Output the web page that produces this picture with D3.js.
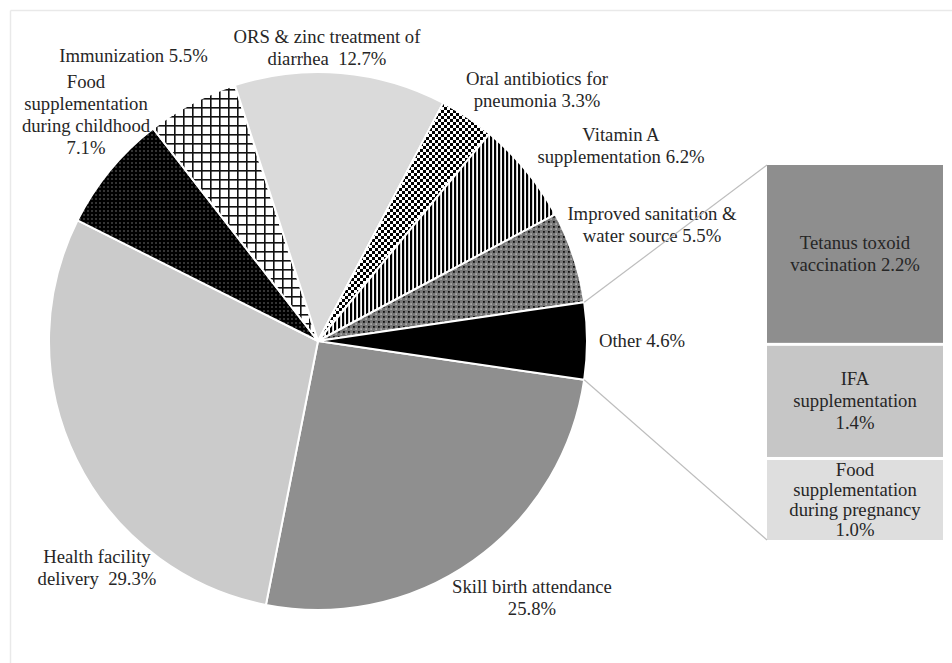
<!DOCTYPE html>
<html>
<head>
<meta charset="utf-8">
<script src="https://cdn.jsdelivr.net/npm/d3@7"></script>
<style>
  html, body { margin: 0; padding: 0; background: #fff; }
  svg { display: block; }
  text {
    font-family: "Liberation Serif", "Times New Roman", serif;
    font-size: 18.7px;
    fill: #262626;
    white-space: pre;
  }
</style>
</head>
<body>
<svg id="chart" width="952" height="663"></svg>
<script>
// ---- data ----
const categories = [
  "Skill birth attendance",
  "Health facility delivery",
  "Food supplementation during childhood",
  "Immunization",
  "ORS & zinc treatment of diarrhea",
  "Oral antibiotics for pneumonia",
  "Vitamin A supplementation",
  "Improved sanitation & water source",
  "Other"
];
const values = [25.8, 29.3, 7.1, 5.5, 12.7, 3.3, 6.2, 5.5, 4.6];
const labelTemplates = [
  "Skill birth attendance\n{v}",
  "Health facility\ndelivery  {v}",
  "Food\nsupplementation\nduring childhood\n{v}",
  "Immunization {v}",
  "ORS & zinc treatment of\ndiarrhea  {v}",
  "Oral antibiotics for\npneumonia {v}",
  "Vitamin A\nsupplementation {v}",
  "Improved sanitation &\nwater source {v}",
  "Other {v}"
];

// breakdown of the "Other" slice
const otherCategories = ["Tetanus toxoid vaccination", "IFA supplementation", "Food supplementation during pregnancy"];
const otherValues = [2.2, 1.4, 1.0];
const otherTemplates = [
  "Tetanus toxoid\nvaccination {v}",
  "IFA\nsupplementation\n{v}",
  "Food\nsupplementation\nduring pregnancy\n{v}"
];

// ---- styling / layout ----
const sliceFills = ["#8f8f8f", "#cbcbcb", "url(#dots)", "url(#grid)", "#dadada",
                    "url(#checker)", "url(#vlines)", "url(#confetti)", "#000000"];
const barFills = ["#8e8e8e", "#c6c6c6", "#dedede"];
// first-baseline anchor of each slice label
const labelAnchors = [[532, 593], [97, 563], [86, 88], [133.5, 62], [327, 43],
                      [537, 85], [621, 141], [652, 220], [642, 347]];
const lineHeight = 22;

const cx = 318, cy = 341, radius = 269;
const barX = 767, barW = 176, barTop = 165, barBottom = 540, barGap = 3;

const fmt = v => d3.format(".1f")(v) + "%";
const svg = d3.select("#chart");

// light frame along the top and left edge
svg.append("line").attr("x1", 10.5).attr("y1", 10.5).attr("x2", 952).attr("y2", 10.5)
  .attr("stroke", "#e9e9e9").attr("stroke-width", 1.5);
svg.append("line").attr("x1", 10.5).attr("y1", 10.5).attr("x2", 10.5).attr("y2", 663)
  .attr("stroke", "#e9e9e9").attr("stroke-width", 1.5);

// ---- fill patterns ----
const defs = svg.append("defs");

const dots = defs.append("pattern").attr("id", "dots")
  .attr("patternUnits", "userSpaceOnUse").attr("width", 4).attr("height", 4);
dots.append("rect").attr("width", 4).attr("height", 4).attr("fill", "#000");
dots.append("rect").attr("x", 1.5).attr("y", 1.5).attr("width", 1).attr("height", 1).attr("fill", "#cfcfcf");

const grid = defs.append("pattern").attr("id", "grid")
  .attr("patternUnits", "userSpaceOnUse").attr("width", 9).attr("height", 9);
grid.append("rect").attr("width", 9).attr("height", 9).attr("fill", "#fff");
grid.append("rect").attr("x", 0).attr("y", 0).attr("width", 1.6).attr("height", 9).attr("fill", "#111");
grid.append("rect").attr("x", 0).attr("y", 0).attr("width", 9).attr("height", 1.6).attr("fill", "#111");

const checker = defs.append("pattern").attr("id", "checker")
  .attr("patternUnits", "userSpaceOnUse").attr("width", 6).attr("height", 6);
checker.append("rect").attr("width", 6).attr("height", 6).attr("fill", "#fff");
checker.append("rect").attr("x", 0).attr("y", 0).attr("width", 3).attr("height", 3).attr("fill", "#000");
checker.append("rect").attr("x", 3).attr("y", 3).attr("width", 3).attr("height", 3).attr("fill", "#000");

const vlines = defs.append("pattern").attr("id", "vlines")
  .attr("patternUnits", "userSpaceOnUse").attr("width", 4).attr("height", 4);
vlines.append("rect").attr("width", 4).attr("height", 4).attr("fill", "#fff");
vlines.append("rect").attr("x", 0).attr("y", 0).attr("width", 2.2).attr("height", 4).attr("fill", "#000");

const confetti = defs.append("pattern").attr("id", "confetti")
  .attr("patternUnits", "userSpaceOnUse").attr("width", 5).attr("height", 5);
confetti.append("rect").attr("width", 5).attr("height", 5).attr("fill", "#767676");
confetti.append("rect").attr("x", 0).attr("y", 0).attr("width", 1.8).attr("height", 1.8).attr("fill", "#111");
confetti.append("rect").attr("x", 2.5).attr("y", 2.5).attr("width", 1.2).attr("height", 1.2).attr("fill", "#e0e0e0");

// ---- pie ----
const total = d3.sum(values);
const otherIdx = values.length - 1;
// rotate so the last ("Other") slice is centred on the 3 o'clock direction
const startAngle = Math.PI / 2 + Math.PI * values[otherIdx] / total;

const pie = d3.pie().sort(null).value(d => d)
  .startAngle(startAngle).endAngle(startAngle + 2 * Math.PI);
const arcs = pie(values);
const arc = d3.arc().innerRadius(0).outerRadius(radius);

const g = svg.append("g").attr("transform", `translate(${cx},${cy})`);
g.selectAll("path.slice").data(arcs).enter().append("path")
  .attr("class", "slice")
  .attr("d", arc)
  .attr("fill", (d, i) => sliceFills[i])
  .attr("stroke", "#fff")
  .attr("stroke-width", 2)
  .attr("stroke-linejoin", "round");

// ---- slice labels ----
function multiline(sel, lines, x, y0) {
  lines.forEach((ln, k) => {
    sel.append("text")
      .attr("x", x).attr("y", y0 + k * lineHeight)
      .attr("text-anchor", "middle")
      .text(ln);
  });
}
const labelsG = svg.append("g");
labelTemplates.forEach((t, i) => {
  const lines = t.replace("{v}", fmt(values[i])).split("\n");
  multiline(labelsG, lines, labelAnchors[i][0], labelAnchors[i][1]);
});

// ---- stacked bar for the "Other" breakdown ----
const y = d3.scaleLinear().domain([0, d3.sum(otherValues)]).range([barTop, barBottom]);
const cum = d3.cumsum(otherValues);
const barData = otherValues.map((v, i) => ({
  v, i,
  y0: y(i === 0 ? 0 : cum[i - 1]) + (i === 0 ? 0 : barGap / 2),
  y1: y(cum[i]) - (i === otherValues.length - 1 ? 0 : barGap / 2)
}));

const barG = svg.append("g");
barG.selectAll("rect").data(barData).enter().append("rect")
  .attr("x", barX).attr("width", barW)
  .attr("y", d => d.y0).attr("height", d => d.y1 - d.y0)
  .attr("fill", d => barFills[d.i]);

barData.forEach(d => {
  const lines = otherTemplates[d.i].replace("{v}", fmt(d.v)).split("\n");
  const mid = (d.y0 + d.y1) / 2;
  const lh = d.i === otherValues.length - 1 ? 20 : lineHeight;
  const first = mid - (lines.length - 1) * lh / 2 + 6;
  lines.forEach((ln, k) => {
    barG.append("text")
      .attr("x", barX + barW / 2).attr("y", first + k * lh)
      .attr("text-anchor", "middle")
      .text(ln);
  });
});

// ---- connector lines from the "Other" slice to the bar ----
const o = arcs[otherIdx];
const edgePt = a => [cx + radius * Math.sin(a), cy - radius * Math.cos(a)];
const pTop = edgePt(o.startAngle);
const pBot = edgePt(o.endAngle);
svg.append("line")
  .attr("x1", pTop[0]).attr("y1", pTop[1]).attr("x2", barX).attr("y2", y(0))
  .attr("stroke", "#bdbdbd").attr("stroke-width", 1.2);
svg.append("line")
  .attr("x1", pBot[0]).attr("y1", pBot[1]).attr("x2", barX).attr("y2", y(d3.sum(otherValues)))
  .attr("stroke", "#bdbdbd").attr("stroke-width", 1.2);
</script>
</body>
</html>
